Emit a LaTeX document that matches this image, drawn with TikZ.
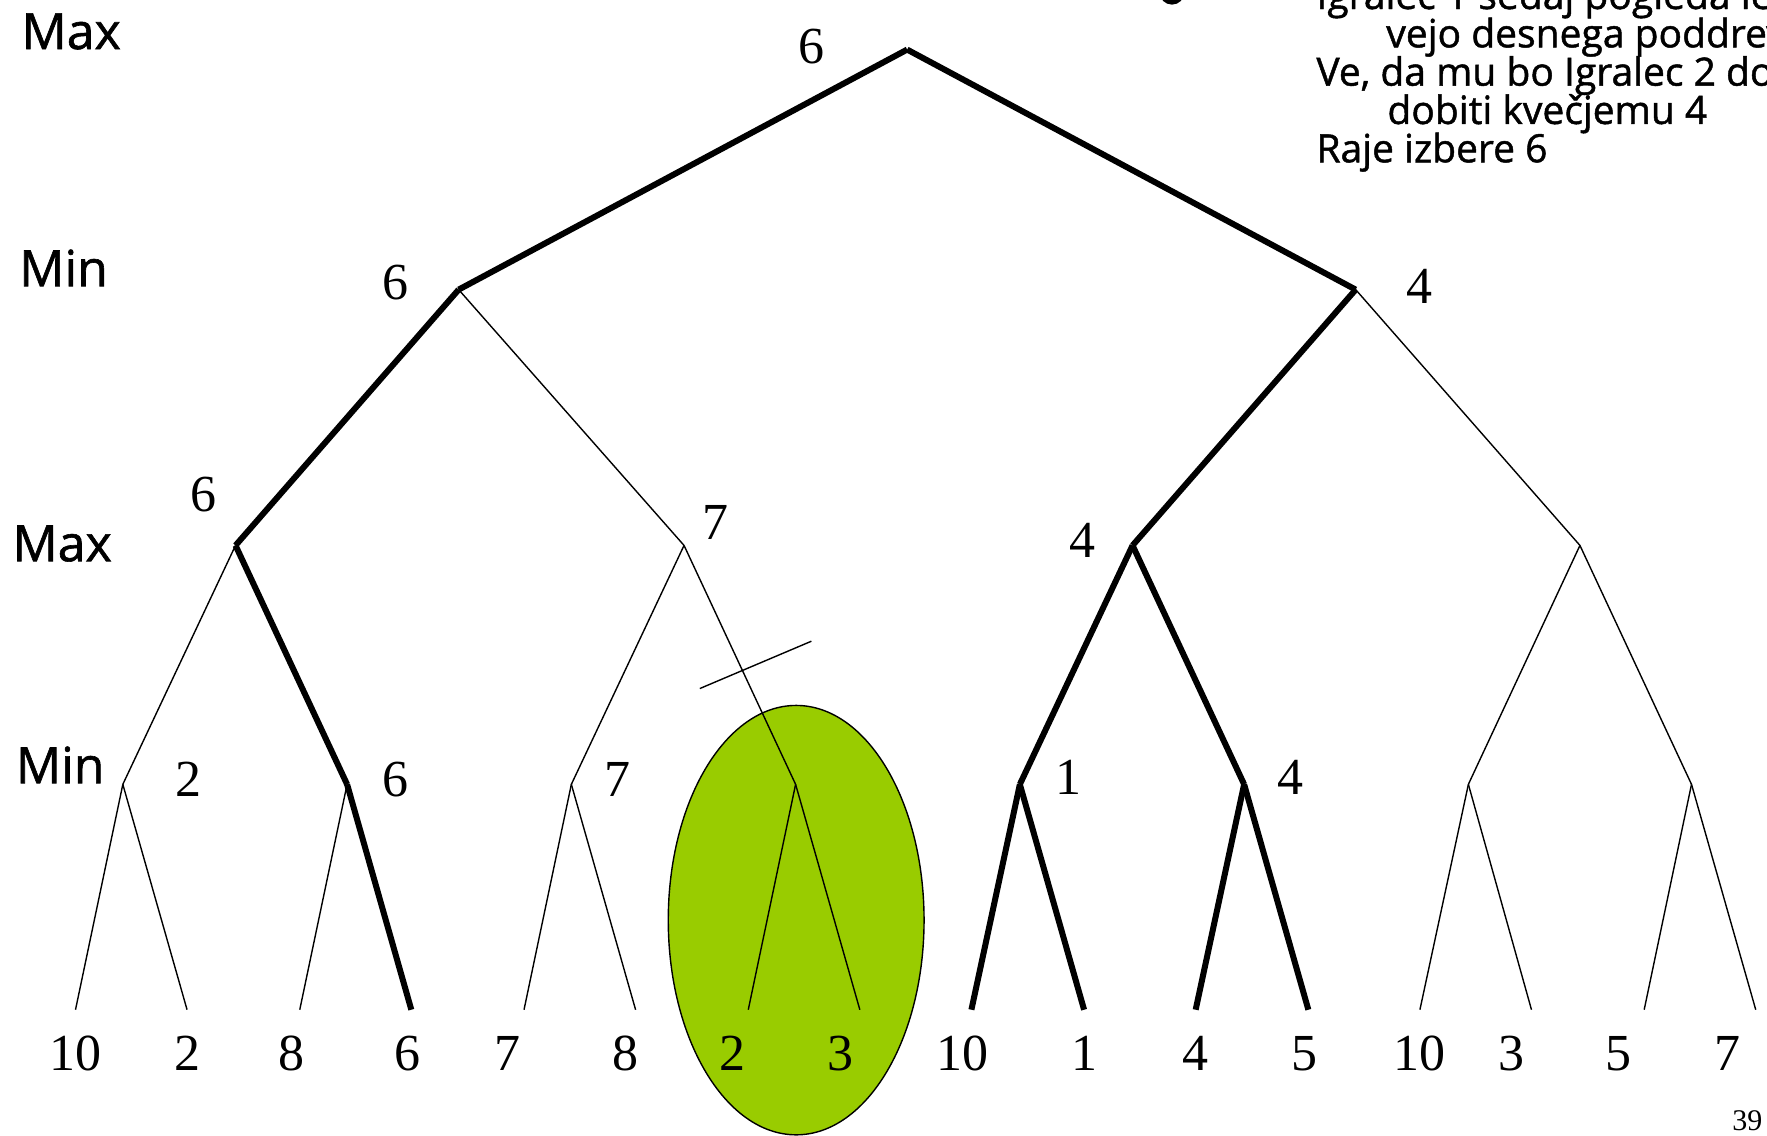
\documentclass[tikz,border=0pt]{standalone}
\usepackage{fontspec}
\setmainfont{Liberation Serif}
\newfontfamily\labfont[FakeBold=1.2]{Open Sans}
\begin{document}
\begin{tikzpicture}[x=1.12691pt,y=-1.12691pt,
  thinedge/.style={line width=1.4pt},
  thickedge/.style={line width=6pt},
  val/.style={font=\fontsize{52}{52}\selectfont, inner sep=0pt, anchor=base},
  lvl/.style={font=\labfont\fontsize{50}{50}\selectfont, inner sep=0pt, anchor=base west},
  note/.style={font=\labfont\fontsize{39}{39}\selectfont, inner sep=0pt, anchor=base west}]
\useasboundingbox (0,0) rectangle (1568,1007.2);
\clip (0,0) rectangle (1568,1007.2);
\definecolor{leafgreen}{HTML}{99CC00}
% highlighted subtree
\draw[line width=1.4pt, fill=leafgreen] (706.5,816.5) ellipse [x radius=127.9pt, y radius=214.7pt];
% tree positions
\coordinate (r) at (805,44);
\coordinate (a) at (407,257);
\coordinate (b) at (1203,257);
\coordinate (aa) at (209,484);
\coordinate (ab) at (607,484);
\coordinate (ba) at (1005,484);
\coordinate (bb) at (1402,484);
\coordinate (m1) at (109,696);
\coordinate (m2) at (308,696);
\coordinate (m3) at (507,696);
\coordinate (m4) at (706,696);
\coordinate (m5) at (905,696);
\coordinate (m6) at (1104,696);
\coordinate (m7) at (1303,696);
\coordinate (m8) at (1501,696);
\foreach \i/\x in {1/67,2/166,3/266,4/365,5/465,6/564,7/664,8/763,9/862,10/962,11/1061,12/1161,13/1260,14/1359,15/1459,16/1558}
  \coordinate (t\i) at (\x,896);
% edges
\draw[thickedge] (r) -- (a);
\draw[thickedge] (r) -- (b);
\draw[thickedge] (a) -- (aa);
\draw[thinedge] (a) -- (ab);
\draw[thickedge] (b) -- (ba);
\draw[thinedge] (b) -- (bb);
\draw[thinedge] (aa) -- (m1);
\draw[thickedge] (aa) -- (m2);
\draw[thinedge] (ab) -- (m3);
\draw[thinedge] (ab) -- (m4);
\draw[thickedge] (ba) -- (m5);
\draw[thickedge] (ba) -- (m6);
\draw[thinedge] (bb) -- (m7);
\draw[thinedge] (bb) -- (m8);
\draw[thinedge] (m1) -- (t1);
\draw[thinedge] (m1) -- (t2);
\draw[thinedge] (m2) -- (t3);
\draw[thickedge] (m2) -- (t4);
\draw[thinedge] (m3) -- (t5);
\draw[thinedge] (m3) -- (t6);
\draw[thinedge] (m4) -- (t7);
\draw[thinedge] (m4) -- (t8);
\draw[thickedge] (m5) -- (t9);
\draw[thickedge] (m5) -- (t10);
\draw[thickedge] (m6) -- (t11);
\draw[thickedge] (m6) -- (t12);
\draw[thinedge] (m7) -- (t13);
\draw[thinedge] (m7) -- (t14);
\draw[thinedge] (m8) -- (t15);
\draw[thinedge] (m8) -- (t16);
% cut mark
\coordinate (c1) at (621,611);
\coordinate (c2) at (720,569);
\draw[thinedge] (c1) -- (c2);
% node values
\node[val] (vr) at (720.5,56) {6};
\node[val] (va) at (351,266) {6};
\node[val] (vb) at (1260,269) {4};
\node[val] (vaa) at (181,454) {6};
\node[val] (vab) at (635,479) {7};
\node[val] (vba) at (961,495) {4};
\node[val] (vm1) at (167,707) {2};
\node[val] (vm2) at (351,707) {6};
\node[val] (vm3) at (548,707) {7};
\node[val] (vm5) at (948,705) {1};
\node[val] (vm6) at (1145.5,705) {4};
% leaf values
\foreach \i/\x/\v in {1/67/10,2/166/2,3/259/8,4/362/6,5/450/7,6/555/8,7/650/2,8/746/3,9/854/10,10/962/1,11/1061/4,12/1158/5,13/1260/10,14/1341/3,15/1436/5,16/1533/7}
  \node[val] (lv\i) at (\x,950) {\v};
% level labels
\node[lvl] (l0) at (19,43.5) {Max};
\node[lvl] (l1) at (17,254) {Min};
\node[lvl] (l2) at (11,498) {Max};
\node[lvl] (l3) at (14,695) {Min};
% note text
\fill (1040,-7) circle [radius=12.5pt];
\node[note] (n1) at (1168,8) {Igralec 1 sedaj pogleda levo};
\node[note] (n2) at (1230,42) {vejo desnega poddrevesa};
\node[note] (n3) at (1168,76) {Ve, da mu bo Igralec 2 dovolil};
\node[note] (n4) at (1231,110) {dobiti kvečjemu 4};
\node[note] (n5) at (1168,144) {Raje izbere 6};
% page number
\node[inner sep=0pt, anchor=base west, font=\fontsize{30}{30}\selectfont] (pg) at (1537,1003.6) {39};
\end{tikzpicture}
\end{document}
